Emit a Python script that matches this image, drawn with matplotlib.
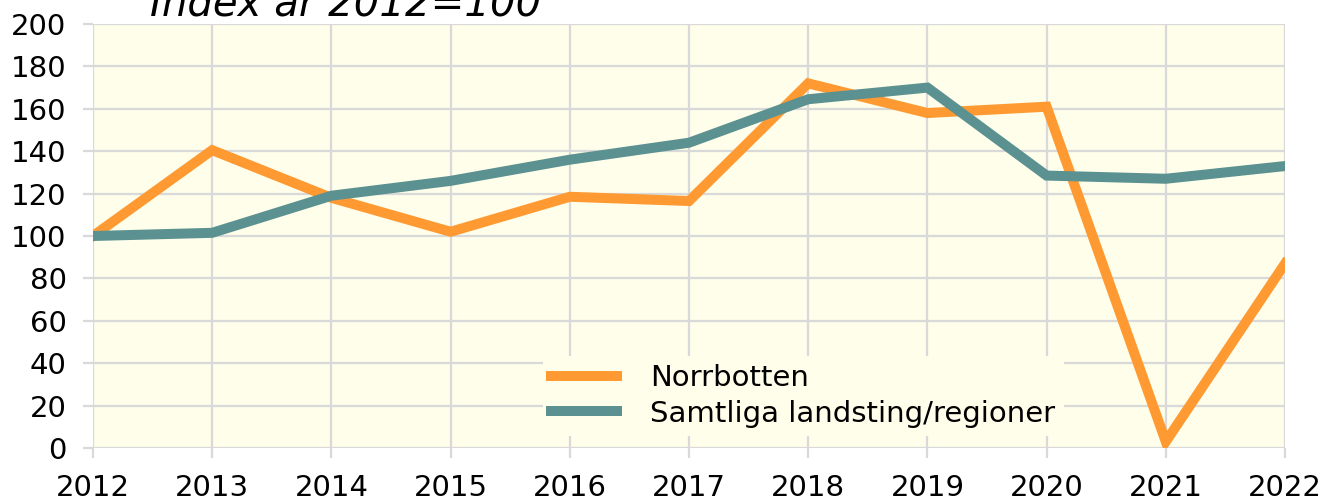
import matplotlib.pyplot as plt
import numpy as np

years = [2012, 2013, 2014, 2015, 2016, 2017, 2018, 2019, 2020, 2021, 2022]
norrbotten = [100, 140.5, 118, 102, 118.5, 116.5, 172, 158, 161, 3, 87]
samtliga = [100, 101.5, 119, 126, 136, 144, 164.5, 170, 128.5, 127, 133]
series_names = ["Norrbotten", "Samtliga landsting/regioner"]
title_text = "Index år 2012=100"

fig = plt.figure(figsize=(13.34, 5.04), dpi=100)
ax = fig.add_axes([93 / 1334, 56 / 504, 1192 / 1334, 424 / 504])
ax.set_facecolor("#FEFEEA")

ax.plot(years, norrbotten, color="#FF9A33", lw=7.2, label=series_names[0],
        solid_joinstyle="miter", zorder=3)
ax.plot(years, samtliga, color="#5B9190", lw=7.2, label=series_names[1],
        solid_joinstyle="miter", zorder=3)

ax.set_xlim(2012, 2022)
ax.set_ylim(0, 200)
ax.set_xticks(years)
ax.set_yticks(np.arange(0, 201, 20))
ax.grid(True, color="#D9D9D9", lw=1.6, zorder=0)
ax.set_axisbelow(True)
for s in ax.spines.values():
    s.set_visible(False)
ax.tick_params(axis="both", labelsize=21, color="#D9D9D9", width=1.6, length=7)
ax.tick_params(axis="y", pad=12)
ax.tick_params(axis="x", pad=12)

leg = ax.legend(loc="upper left", bbox_to_anchor=(528 / 1334, 1 - 341 / 504),
                bbox_transform=fig.transFigure, fontsize=21, frameon=True,
                facecolor="#FEFEEA", edgecolor="none", framealpha=1,
                handlelength=2.25, handletextpad=1.15, borderpad=0.3,
                labelspacing=0.25)

fig.text(150 / 1334, 1 - 15 / 504, title_text, fontsize=29, style="italic",
         va="baseline", ha="left")

fig.savefig("out.png", dpi=100)
